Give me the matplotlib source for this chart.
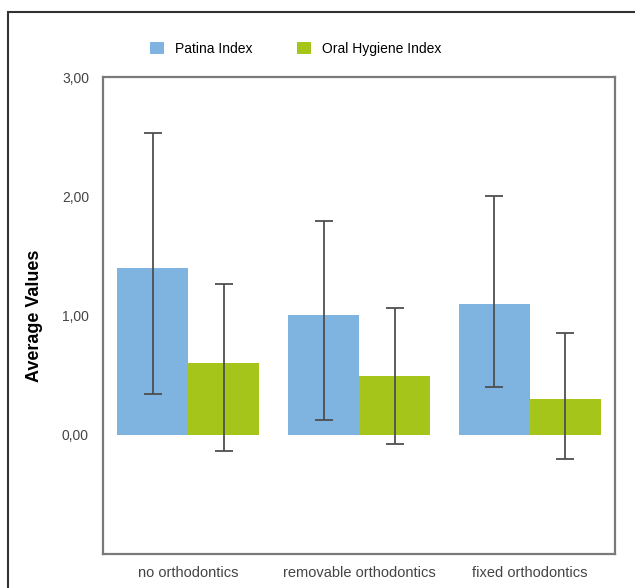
import matplotlib.pyplot as plt
import matplotlib.patches as mpatches
import numpy as np

plt.rcParams['font.family'] = ['Liberation Sans', 'DejaVu Sans']

# data
categories = ['no orthodontics', 'removable orthodontics', 'fixed orthodontics']
patina = [1.40, 1.00, 1.10]
patina_low = [0.34, 0.12, 0.40]
patina_high = [2.53, 1.79, 2.00]
ohi = [0.60, 0.49, 0.30]
ohi_low = [-0.14, -0.08, -0.20]
ohi_high = [1.26, 1.06, 0.85]
yticks = [0, 1, 2, 3]
ytick_labels = ['0,00', '1,00', '2,00', '3,00']

color_patina = '#7fb3e0'
color_ohi = '#a6c51a'
err_color = '#4f4f4f'

fig = plt.figure(figsize=(6.35, 5.88), dpi=100)
ax = fig.add_axes([0.162, 0.058, 0.807, 0.811])

x = np.arange(len(categories))
w = 0.415

p = np.array(patina)
o = np.array(ohi)
p_err = [p - np.array(patina_low), np.array(patina_high) - p]
o_err = [o - np.array(ohi_low), np.array(ohi_high) - o]

ax.bar(x - w / 2, patina, width=w, color=color_patina, label='Patina Index', zorder=2)
ax.bar(x + w / 2, ohi, width=w, color=color_ohi, label='Oral Hygiene Index', zorder=2)
ax.errorbar(x - w / 2, patina, yerr=p_err, fmt='none', ecolor=err_color,
            elinewidth=1.3, capsize=6.5, capthick=1.3, zorder=3)
ax.errorbar(x + w / 2, ohi, yerr=o_err, fmt='none', ecolor=err_color,
            elinewidth=1.3, capsize=6.5, capthick=1.3, zorder=3)

ax.set_xlim(-0.5, 2.5)
ax.set_ylim(-1, 3)
ax.set_yticks(yticks)
ax.set_yticklabels(ytick_labels)
ax.set_xticks(x)
ax.set_xticklabels(categories)
ax.tick_params(axis='both', length=0, colors='#444444')
ax.tick_params(axis='y', pad=10, labelsize=10)
ax.tick_params(axis='x', pad=9, labelsize=10.5)

for spine in ax.spines.values():
    spine.set_color('#7a7a7a')
    spine.set_linewidth(1.6)

ax.set_ylabel('Average Values', fontsize=13, fontweight='bold')
ax.yaxis.set_label_coords(-0.117, 0.5)

fig.legend(loc='center', bbox_to_anchor=(0.466, 0.917), ncol=2, frameon=False,
           fontsize=10, handlelength=1.0, handleheight=1.0, columnspacing=3.2,
           handletextpad=0.8)

# outer frame around the figure
frame = mpatches.Rectangle((8 / 635, -0.1), 1.2, 1 - 12 / 588 + 0.1,
                           transform=fig.transFigure, fill=False,
                           edgecolor='#333333', linewidth=1.5, clip_on=False)
fig.patches.append(frame)

fig.savefig('out.png', dpi=100)
